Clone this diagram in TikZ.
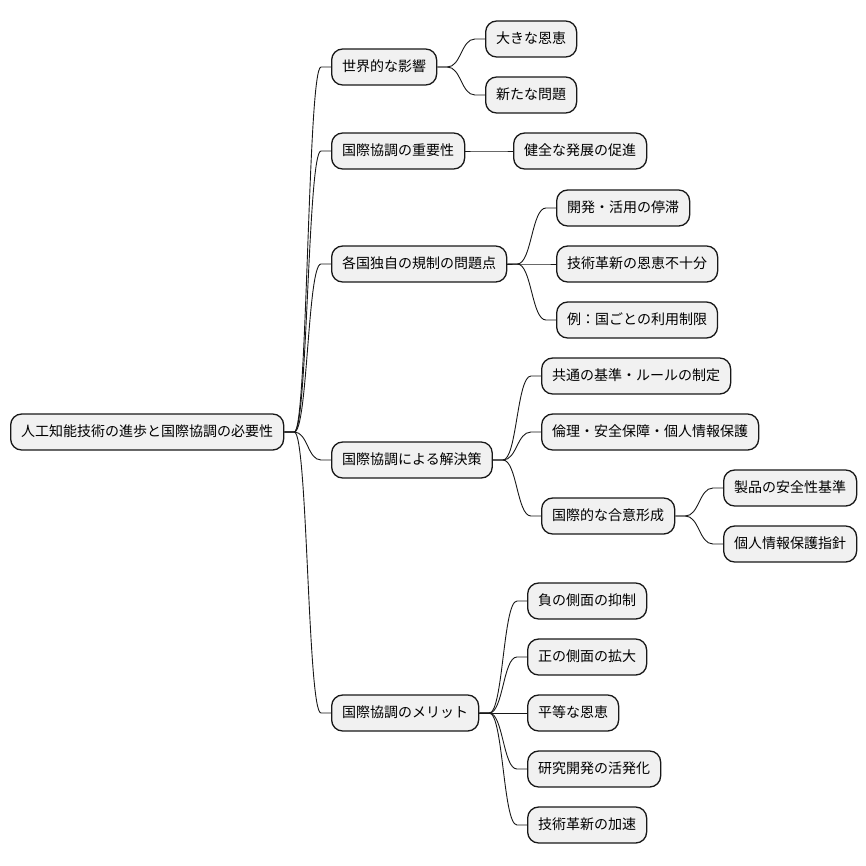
\documentclass[tikz,border=0pt]{standalone}
\usepackage{fontspec}
\setmainfont{Noto Sans CJK JP}
\usetikzlibrary{calc}
\definecolor{boxfill}{HTML}{F1F1F1}
\definecolor{boxline}{HTML}{181818}
\tikzset{
  mm/.style={draw=boxline, line width=1.3pt, fill=boxfill, rounded corners=11pt,
    anchor=west, minimum height=36pt, inner xsep=10.5pt, inner ysep=0pt,
    text height=11pt, text depth=3pt, font=\fontsize{14pt}{16pt}\selectfont},
  conn/.style={draw=boxline, line width=0.9pt}
}
\newcommand{\mmlink}[2]{%
  \draw[conn] let \p1=(#1.east), \p2=(#2.west) in
    (\p1) -- (\x1+10pt,\y1) .. controls ({(\x1+\x2)/2},\y1) and ({(\x1+\x2)/2},\y2) .. (\x2-10pt,\y2) -- (\p2);}
\begin{document}
\begin{tikzpicture}[x=1pt,y=-1pt]
\useasboundingbox (0,0) rectangle (866,865);
\node[mm] (root) at (10,432) {人工知能技術の進歩と国際協調の必要性};
\node[mm] (a) at (331,67) {世界的な影響};
\node[mm] (b) at (331,151) {国際協調の重要性};
\node[mm] (c) at (331,264) {各国独自の規制の問題点};
\node[mm] (d) at (331,460) {国際協調による解決策};
\node[mm] (e) at (331,713) {国際協調のメリット};
\node[mm] (a1) at (485,39) {大きな恩恵};
\node[mm] (a2) at (485,95) {新たな問題};
\node[mm] (b1) at (513,151) {健全な発展の促進};
\node[mm] (c1) at (556,208) {開発・活用の停滞};
\node[mm] (c2) at (556,264) {技術革新の恩恵不十分};
\node[mm] (c3) at (556,320) {例：国ごとの利用制限};
\node[mm] (d1) at (541,376) {共通の基準・ルールの制定};
\node[mm] (d2) at (541,432) {倫理・安全保障・個人情報保護};
\node[mm] (d3) at (541,516) {国際的な合意形成};
\node[mm] (d31) at (723,488) {製品の安全性基準};
\node[mm] (d32) at (723,544) {個人情報保護指針};
\node[mm] (e1) at (527,601) {負の側面の抑制};
\node[mm] (e2) at (527,657) {正の側面の拡大};
\node[mm] (e3) at (527,713) {平等な恩恵};
\node[mm] (e4) at (527,769) {研究開発の活発化};
\node[mm] (e5) at (527,825) {技術革新の加速};
\foreach \c in {a,b,c,d,e} {\mmlink{root}{\c}}
\foreach \c in {a1,a2} {\mmlink{a}{\c}}
\mmlink{b}{b1}
\foreach \c in {c1,c2,c3} {\mmlink{c}{\c}}
\foreach \c in {d1,d2,d3} {\mmlink{d}{\c}}
\foreach \c in {d31,d32} {\mmlink{d3}{\c}}
\foreach \c in {e1,e2,e3,e4,e5} {\mmlink{e}{\c}}
\end{tikzpicture}
\end{document}
